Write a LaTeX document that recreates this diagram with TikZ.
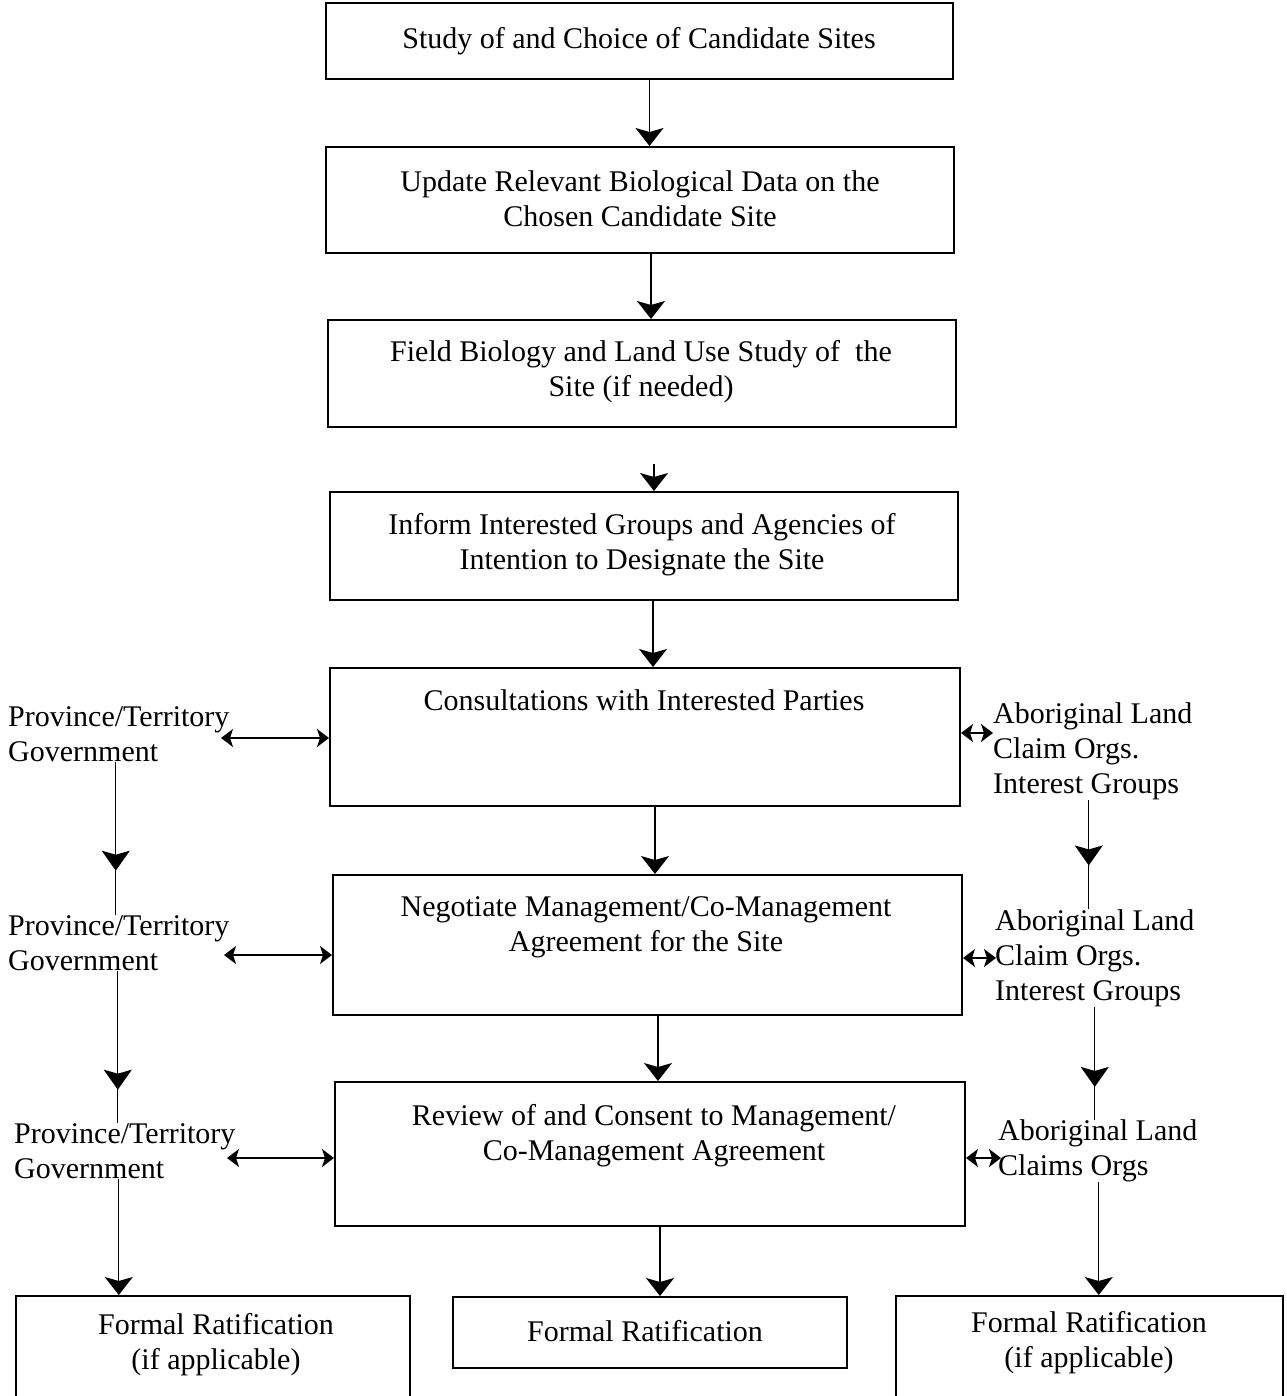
\documentclass[tikz,border=0pt]{standalone}
\usepackage{fontspec}
\setmainfont{Liberation Serif}
\usetikzlibrary{arrows.meta,calc,decorations.markings}
\begin{document}
\begin{tikzpicture}[x=1pt,y=-1pt,
  box/.style={draw, line width=2pt, inner sep=0pt},
  txt/.style={font=\fontsize{30}{35}\selectfont, align=center, inner sep=0pt},
  side/.style={font=\fontsize{30}{35}\selectfont, align=left, inner sep=0pt, anchor=west},
  flow/.style={line width=1.4pt, -{Stealth[length=18pt,width=28pt,inset=4pt]}},
  midflow/.style={line width=1.4pt, postaction={decorate},
    decoration={markings, mark=at position #1 with {\arrow{Stealth[length=20pt,width=28pt,inset=4pt]}}}},
  link/.style={line width=2pt, {Stealth[length=12pt,width=18pt,inset=3pt]}-{Stealth[length=12pt,width=18pt,inset=3pt]}}]

\clip (0,0) rectangle (1286,1396);
\useasboundingbox (0,0) rectangle (1286,1396);

% main column of steps
\node[box, minimum width=627, minimum height=76]  (b1) at (639.5,41) {};
\node[box, minimum width=628, minimum height=106] (b2) at (640,200) {};
\node[box, minimum width=628, minimum height=107] (b3) at (642,373.5) {};
\node[box, minimum width=628, minimum height=108] (b4) at (644,546) {};
\node[box, minimum width=630, minimum height=138] (b5) at (645,737) {};
\node[box, minimum width=629, minimum height=140] (b6) at (647.5,945) {};
\node[box, minimum width=630, minimum height=144] (b7) at (650,1154) {};

\node[txt] (t1) at (639,41) {Study of and Choice of Candidate Sites};
\node[txt] (t2) at (640,199) {Update Relevant Biological Data on the\\Chosen Candidate Site};
\node[txt] (t3) at (641,372) {Field Biology and Land Use Study of\ \ the\\Site (if needed)};
\node[txt] (t4) at (642,545) {Inform Interested Groups and Agencies of\\Intention to Designate the Site};
\node[txt] (t5) at (644,700) {Consultations with Interested Parties};
\node[txt] (t6) at (646,927) {Negotiate Management/Co-Management\\Agreement for the Site};
\node[txt] (t7) at (654,1136) {Review of and Consent to Management/\\Co-Management Agreement};

% ratification boxes
\node[box, minimum width=394, minimum height=114] (bl) at (213,1353) {};
\node[box, minimum width=394, minimum height=71]  (bm) at (650,1332.5) {};
\node[box, minimum width=387, minimum height=114] (br) at (1089.5,1353) {};
\node[txt] (tl) at (216,1345) {Formal Ratification\\(if applicable)};
\node[txt] (tm) at (645,1331) {Formal Ratification};
\node[txt] (tr) at (1089,1343) {Formal Ratification\\(if applicable)};

% side parties
\node[side] (pl1) at (8,734)  {Province/Territory\\Government};
\node[side] (pl2) at (8,943)  {Province/Territory\\Government};
\node[side] (pl3) at (14,1151) {Province/Territory\\Government};
\node[side] (pr1) at (993,751) {Aboriginal Land\\Claim Orgs.\\Interest Groups};
\node[side] (pr2) at (995,958) {Aboriginal Land\\Claim Orgs.\\Interest Groups};
\node[side] (pr3) at (998,1151) {Aboriginal Land\\Claims Orgs};

% flow down the main column
\draw[flow] ($(b1.south)+(10,0)$) coordinate (a1) -- (a1 |- b2.north);
\draw[flow] ($(b2.south)+(11,0)$) coordinate (a2) -- (a2 |- b3.north);
\coordinate (a3) at ($(b4.north)+(10,-27)$);
\draw[flow] (a3) -- (a3 |- b4.north);
\draw[flow] ($(b4.south)+(9,0)$) coordinate (a4) -- (a4 |- b5.north);
\draw[flow] ($(b5.south)+(10,0)$) coordinate (a5) -- (a5 |- b6.north);
\draw[flow] ($(b6.south)+(10.5,0)$) coordinate (a6) -- (a6 |- b7.north);
\draw[flow] ($(b7.south)+(10,0)$) coordinate (a7) -- (a7 |- bm.north);

% two-way links with the parties
\draw[link] ($(b5.west)+(-108,1)$) -- ($(b5.west)+(0,1)$);
\draw[link] ($(b6.west)+(-108,10)$) -- ($(b6.west)+(0,10)$);
\draw[link] ($(b7.west)+(-107,4)$) -- ($(b7.west)+(0,4)$);
\draw[link] ($(b5.east)+(0,-4)$) -- ($(b5.east)+(32,-4)$);
\draw[link] ($(b6.east)+(0,13)$) -- ($(b6.east)+(33,13)$);
\draw[link] ($(b7.east)+(0,4)$) -- ($(b7.east)+(35,4)$);

% side chains
\draw[midflow=0.71] ($(pl1.south)+(-3,0)$) coordinate (l1) -- (l1 |- pl2.north);
\draw[midflow=0.78] ($(pl2.south)+(-1,0)$) coordinate (l2) -- (l2 |- pl3.north);
\draw[flow] ($(pl3.south)+(-6,0)$) coordinate (l3) -- (l3 |- bl.north);
\draw[midflow=0.6] ($(pr1.south)+(-4,0)$) coordinate (r1) -- (r1 |- pr2.north);
\draw[midflow=0.71] ($(pr2.south)+(0,0)$) coordinate (r2) -- (r2 |- pr3.north);
\draw[flow] ($(pr3.south)+(1,0)$) coordinate (r3) -- (r3 |- br.north);
\end{tikzpicture}
\end{document}
